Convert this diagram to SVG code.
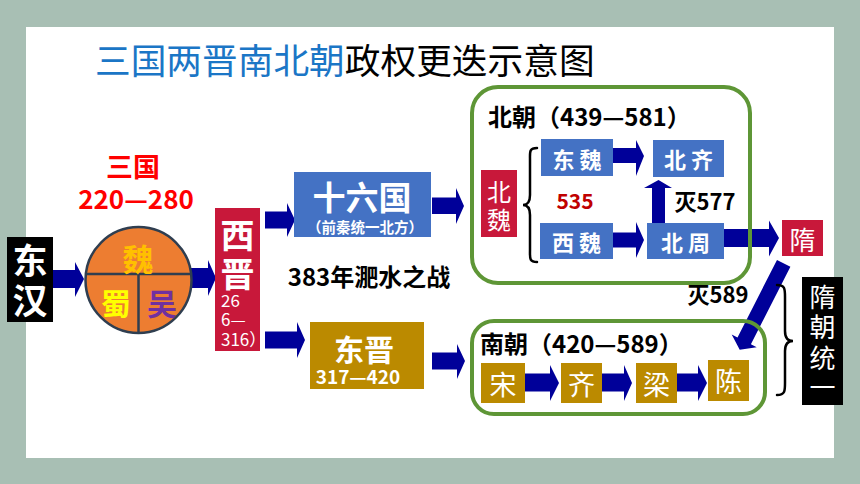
<svg xmlns="http://www.w3.org/2000/svg" width="860" height="484" viewBox="0 0 860 484">
<style>
text{font-family:"Noto Sans CJK SC","Noto Sans",sans-serif;dominant-baseline:central;text-anchor:middle}
.b{font-weight:bold}
.w{fill:#fff}
.arr{fill:#000099}
.red{fill:#C8183A}
.blue{fill:#4472C4}
.gold{fill:#BB8A00}
.blk{fill:#000}
.grp{fill:none;stroke:#5E9636;stroke-width:4}
.brace{fill:none;stroke:#000;stroke-width:2.5;stroke-linecap:round}
</style>
<rect x="0" y="0" width="860" height="484" fill="#A8BFB4"/>
<rect x="26" y="27" width="808" height="431" fill="#fff"/>
<g id="title">
<text x="95" y="58" font-size="35.7" style="text-anchor:start"><tspan fill="#1B76C6">三国两晋南北朝</tspan><tspan fill="#000">政权更迭示意图</tspan></text>
</g>
<g id="connectors">
<polygon class="arr" points="53,270 75,270 75,262 84,279 75,297 75,288 53,288"/>
<polygon class="arr" points="190,268 208,268 208,260 216,278 208,296 208,288 190,288"/>
<polygon class="arr" points="265,211.5 287,211.5 287,203 295,220 287,237 287,228.5 265,228.5"/>
<polygon class="arr" points="265,331.5 297,331.5 297,322 305,340 297,358 297,348.5 265,348.5"/>
<polygon class="arr" points="432,197.5 456,197.5 456,188 464,206 456,224 456,214 432,214"/>
<polygon class="arr" points="432,352.5 457,352.5 457,344 465,361 457,379 457,369.5 432,369.5"/>
<polygon class="arr" points="613,148 636,148 636,140 644,156 636,176 636,163 613,163"/>
<polygon class="arr" points="613,232.5 636,232.5 636,222 644,240 636,258 636,247.5 613,247.5"/>
<polygon class="arr" points="652,223 652,188 644,188 658.5,180 672,188 665,188 665,223"/>
<polygon class="arr" points="724,229 769,229 769,220.5 779,238 769,256.5 769,247 724,247"/>
<polygon class="arr" points="790.4,266.7 750.9,344.2 756.7,347.2 739.7,349.7 731.7,334.4 737.5,337.4 777,259.9"/>
<polygon class="arr" points="525,373.5 550,373.5 550,365 559,383 550,401 550,391.5 525,391.5"/>
<polygon class="arr" points="602,373.5 624,373.5 624,365 632,383 624,401 624,391.5 602,391.5"/>
<polygon class="arr" points="677,373.5 698,373.5 698,365 707,383 698,401 698,391.5 677,391.5"/>
</g>
<g id="donghan">
<rect class="blk" x="7" y="237" width="46" height="85"/>
<text class="b w" x="30" y="258" font-size="35">东</text>
<text class="b w" x="30" y="298" font-size="35">汉</text>
</g>
<g id="sanguo-label">
<text class="b" x="133" y="165" font-size="27" fill="#FF0000">三国</text>
<text class="b" x="136" y="197" font-size="26" fill="#FF0000">220—280</text>
</g>
<g id="sanguo">
<circle cx="138.5" cy="280" r="53" fill="#ED7D31" stroke="#2F3E50" stroke-width="2.5"/>
<line x1="86" y1="274" x2="191" y2="274" stroke="#2F3E50" stroke-width="2.5"/>
<line x1="138.5" y1="274" x2="138.5" y2="333" stroke="#2F3E50" stroke-width="2.5"/>
<text class="b" x="138" y="257" font-size="31" fill="#FFC000">魏</text>
<text class="b" x="116" y="302" font-size="30" fill="#FFFF00">蜀</text>
<text class="b" x="162" y="302" font-size="30" fill="#7030A0">吴</text>
</g>
<g id="xijin">
<rect class="red" x="215" y="208" width="45" height="143"/>
<text class="b w" x="237.5" y="233" font-size="34">西</text>
<text class="b w" x="237.5" y="272" font-size="34">晋</text>
<text class="w" x="221" y="299" font-size="17" style="text-anchor:start">26</text>
<text class="w" x="221" y="318" font-size="17" style="text-anchor:start">6—</text>
<text class="w" x="221" y="338" font-size="17" style="text-anchor:start">316）</text>
</g>
<g id="shiliuguo">
<rect class="blue" x="294" y="172" width="137" height="65"/>
<text class="b w" x="362" y="196" font-size="33">十六国</text>
<text class="b w" x="365" y="226" font-size="14.5">（前秦统一北方）</text>
</g>
<g id="feishui">
<text class="b" x="369" y="275" font-size="24" fill="#000">383年淝水之战</text>
</g>
<g id="dongjin">
<rect class="gold" x="310" y="322" width="114" height="67"/>
<text class="b w" x="364" y="348" font-size="30">东晋</text>
<text class="b w" x="358" y="375" font-size="19">317—420</text>
</g>
<g id="beichao">
<rect class="grp" x="472" y="87" width="278" height="196" rx="26"/>
<text class="b" x="488" y="115" font-size="24" fill="#000" style="text-anchor:start">北朝（439—581）</text>
<path class="brace" d="M537,148 C529,148 530,152 530,160 L530,195 C530,202 527,205 523,205 C527,205 530,208 530,215 L530,250 C530,258 529,262 537,262"/>
<text class="b" x="575" y="200" font-size="21" fill="#C00000">535</text>
<text class="b" x="705" y="200" font-size="22" fill="#000">灭577</text>
</g>
<g id="beiwei">
<rect class="red" x="481" y="170" width="36" height="67"/>
<text class="w" x="499" y="190" font-size="24">北</text>
<text class="w" x="499" y="218" font-size="24">魏</text>
</g>
<g id="dongwei">
<rect class="blue" x="541" y="139" width="72" height="37"/>
<text class="b w" x="577" y="158" font-size="22">东 魏</text>
</g>
<g id="beiqi">
<rect class="blue" x="653" y="140" width="71" height="37"/>
<text class="b w" x="688.5" y="158" font-size="22">北 齐</text>
</g>
<g id="xiwei">
<rect class="blue" x="540" y="223" width="73" height="36"/>
<text class="b w" x="576.5" y="241" font-size="22">西 魏</text>
</g>
<g id="beizhou">
<rect class="blue" x="647" y="223" width="77" height="36"/>
<text class="b w" x="685.5" y="241" font-size="22">北 周</text>
</g>
<g id="sui">
<rect class="red" x="782" y="220" width="41" height="36"/>
<text class="w" x="802.5" y="238" font-size="26">隋</text>
</g>
<g id="mie589">
<text class="b" x="718" y="293" font-size="22" fill="#000">灭589</text>
</g>
<g id="nanchao">
<rect class="grp" x="472" y="321" width="293" height="93" rx="22"/>
<text class="b" x="480" y="342" font-size="24" fill="#000" style="text-anchor:start">南朝（420—589）</text>
</g>
<g id="song">
<rect class="gold" x="481" y="363" width="44" height="40"/>
<text class="w" x="503" y="383" font-size="27">宋</text>
</g>
<g id="qi">
<rect class="gold" x="561" y="363" width="41" height="40"/>
<text class="w" x="581.5" y="383" font-size="27">齐</text>
</g>
<g id="liang">
<rect class="gold" x="636" y="363" width="41" height="40"/>
<text class="w" x="656.5" y="383" font-size="27">梁</text>
</g>
<g id="chen">
<rect class="gold" x="708" y="360" width="41" height="41"/>
<text class="w" x="728.5" y="380.5" font-size="27">陈</text>
</g>
<g id="suitongyi">
<path class="brace" d="M777,285 C785,285 785,289 785,297 L785,331 C785,338 788,341 793,341 C788,341 785,344 785,351 L785,383 C785,391 785,395 777,395"/>
<rect class="blk" x="802" y="277" width="41" height="128"/>
<text class="w" x="822.5" y="295" font-size="26">隋</text>
<text class="w" x="822.5" y="325" font-size="26">朝</text>
<text class="w" x="822.5" y="356" font-size="26">统</text>
<text class="w" x="822.5" y="385" font-size="26">一</text>
</g>
</svg>
